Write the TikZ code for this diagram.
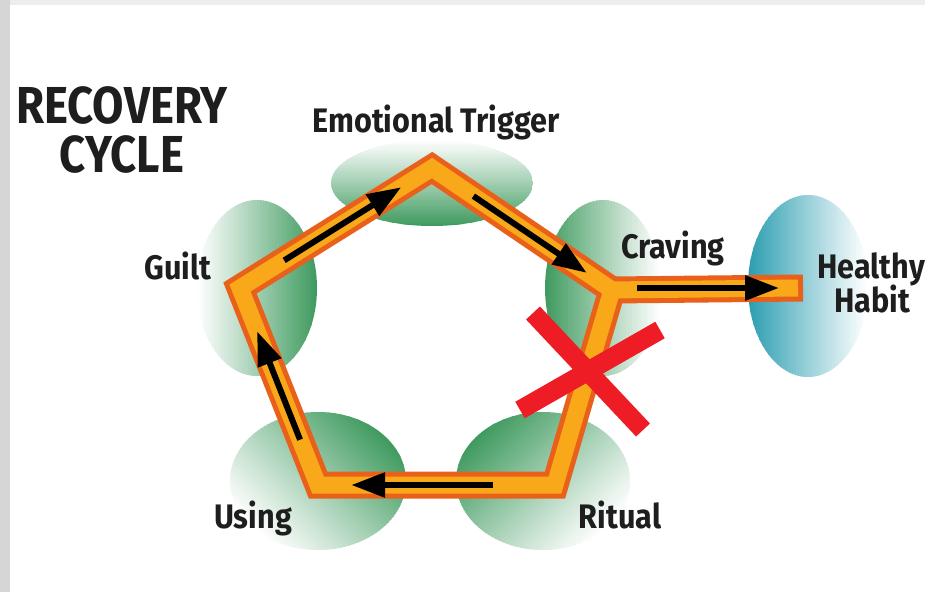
\documentclass[tikz,border=0pt]{standalone}
\usepackage{fontspec}
\newfontfamily\labfont[FakeStretch=0.9]{Fira Sans}
\newfontfamily\ttlfont[FakeStretch=0.875]{Fira Sans}
\usetikzlibrary{arrows.meta,calc}
\definecolor{bandout}{HTML}{E8601A}
\definecolor{bandin}{HTML}{F9A81A}
\definecolor{blobgreen}{HTML}{3E9A5E}
\definecolor{blobteal}{HTML}{2A9DB0}
\definecolor{xred}{HTML}{EE1C24}
\definecolor{txt}{HTML}{1E1E1E}
% soft blob: centre x, centre y, x radius, y radius, dark direction, colour
\newcommand\myblob[6]{%
  \begin{scope}
    \clip (#1,#2) ellipse [x radius=#3, y radius=#4];
    \begin{scope}[shift={(#1,#2)}, rotate=#5]
      \pgfmathsetmacro\blobR{sqrt((#3*cos(#5))^2+(#4*sin(#5))^2)}
      \pgfmathsetmacro\blobM{max(#3,#4)}
      \foreach \i in {0,...,39}{
        \pgfmathsetmacro\blobxa{-\blobR+2*\blobR*\i/40}
        \pgfmathsetmacro\blobxb{\blobxa+2*\blobR/40+1}
        \pgfmathsetmacro\blobpc{100*((\i+0.5)/40)^1.05}
        \fill[#6!\blobpc!white] (\blobxa,-\blobM) rectangle (\blobxb,\blobM);
      }
    \end{scope}
  \end{scope}}
\begin{document}
\begin{tikzpicture}[x=1pt,y=-1pt,
  bandouter/.style={draw=bandout, line width=27pt, line join=miter},
  bandinner/.style={draw=bandin, line width=17pt, line join=miter},
  flow/.style={draw=black, line width=6pt, -{Triangle[length=34pt,width=24pt]}},
  crossbar/.style={draw=xred, line width=19pt},
  lab/.style={font=\labfont\bfseries\fontsize{34}{38}\selectfont, text=txt, anchor=base, inner sep=0pt},
  ttl/.style={font=\ttlfont\bfseries\fontsize{52}{56}\selectfont, text=txt, anchor=base, inner sep=0pt},
]
\useasboundingbox (0,0) rectangle (925,592);
\fill[white] (0,0) rectangle (925,592);
\fill[black!16] (0,0) rectangle (10,592);
\fill[black!7] (10,0) rectangle (925,5);

% blobs
\myblob{432}{183}{101}{43}{270}{blobgreen}
\myblob{257}{288}{60}{88}{0}{blobgreen}
\myblob{603}{288}{58}{88}{180}{blobgreen}
\myblob{318}{481}{88}{69}{45}{blobgreen}
\myblob{543}{481}{87}{69}{135}{blobgreen}
\myblob{808}{286}{60}{91}{180}{blobteal}

% vertices
\coordinate (T) at (432,168);
\coordinate (R) at (612,290);
\coordinate (BR) at (555,485);
\coordinate (BL) at (318,485);
\coordinate (L) at (240,288);
\coordinate (H) at (803,288);

% band
\draw[bandouter] (T) -- (R) -- (BR) -- (BL) -- (L) -- cycle;
\draw[bandouter, line cap=butt] (R) -- (H);
\draw[bandinner] (T) -- (R) -- (BR) -- (BL) -- (L) -- cycle;
\draw[bandinner, line cap=butt] ($(R)+(-6,0)$) -- ($(H)+(-5,0)$);

% arrows
\draw[flow] ($(BL)!0.23!(L)$) -- ($(BL)!0.78!(L)$);
\draw[flow] ($(L)!0.23!(T)$) -- ($(L)!0.84!(T)$);
\draw[flow] ($(T)!0.23!(R)$) -- ($(T)!0.86!(R)$);
\draw[flow] ($(BR)!0.26!(BL)$) -- ($(BR)!0.86!(BL)$);
\draw[flow] (637,288) -- (779,288);

% red cross
\coordinate (xa) at (533,313);
\coordinate (xb) at (643,430);
\coordinate (xc) at (660,330);
\coordinate (xd) at (520,410);
\draw[crossbar] (xa) -- (xb);
\draw[crossbar] (xc) -- (xd);

% labels
\node[ttl] (t1) at (122,123) {RECOVERY};
\node[ttl] (t2) at (122,172) {CYCLE};
\node[lab] (emo) at (436,132) {Emotional Trigger};
\node[lab] (guilt) at (178,279) {Guilt};
\node[lab] (crav) at (673,258) {Craving};
\node[lab] (hea) at (871,278) {Healthy};
\node[lab] (hab) at (872,312) {Habit};
\node[lab] (using) at (253,528) {Using};
\node[lab] (rit) at (620,528) {Ritual};
\end{tikzpicture}
\end{document}
